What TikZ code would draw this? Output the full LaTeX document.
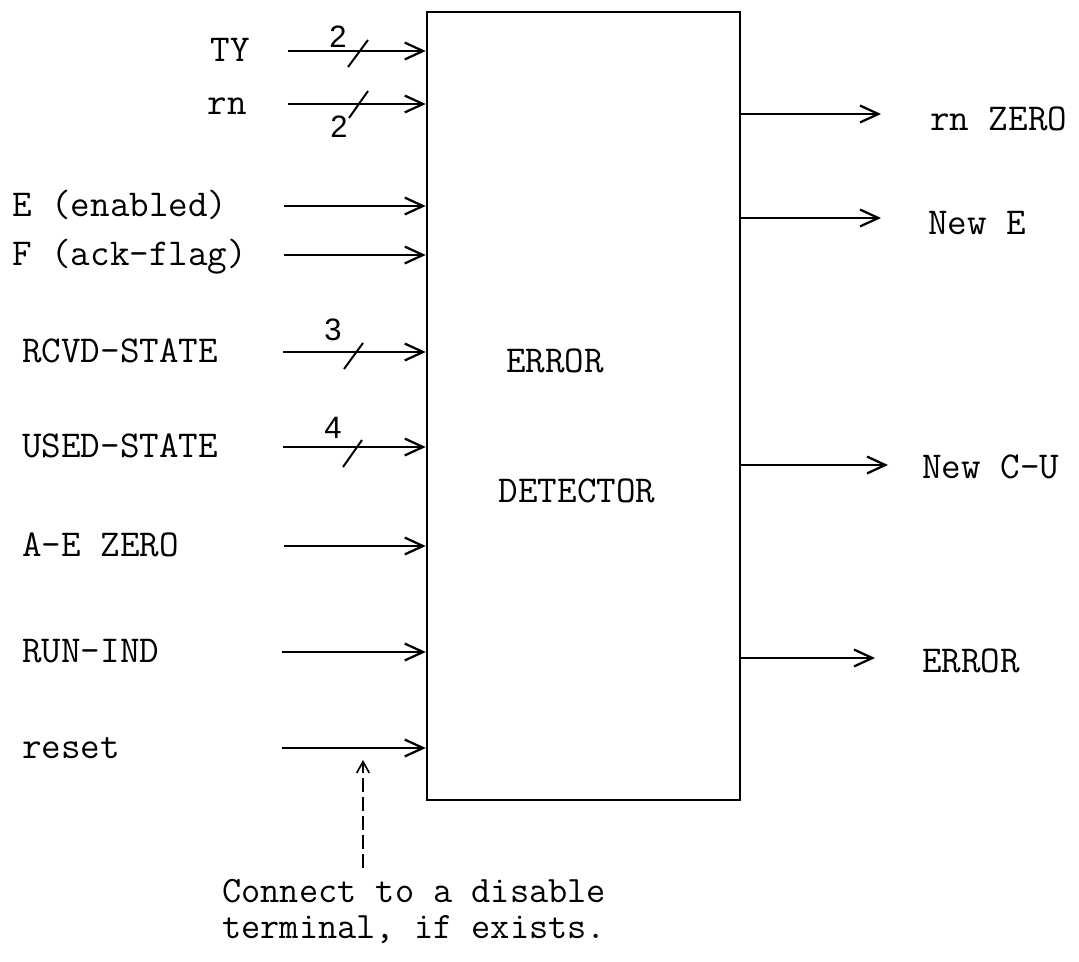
\documentclass[tikz,border=0pt]{standalone}
\usepackage{fontspec}
\setmainfont{Latin Modern Mono}
\setsansfont{Liberation Sans}
\usetikzlibrary{arrows.meta,positioning}

\begin{document}
\begin{tikzpicture}[
  x=0.025cm, y=-0.025cm,
  sig/.style={font=\fontsize{27}{30}\selectfont, inner sep=0pt},
  num/.style={font=\sffamily\fontsize{22}{24}\selectfont, inner sep=0pt},
  wire/.style={line width=1.8pt, -{Straight Barb[length=13pt,width=12pt,line width=1.6pt]}},
  bus/.style={line width=1.4pt},
  note/.style={font=\fontsize{26.5}{25.6}\selectfont, inner sep=0pt, align=left},
  hint/.style={line width=1.2pt, dash pattern=on 10pt off 3.5pt, -{Straight Barb[length=8pt,width=9pt,line width=1.2pt]}}
]
\useasboundingbox (0,0) rectangle (1079,961);
% the detector block
\node[draw, line width=1.8pt, minimum width=7.825cm, minimum height=19.7cm, inner sep=0pt] (det) at (583.5,406) {};
\node[sig, anchor=base] (d1) at (555,372) {ERROR};
\node[sig, anchor=base] (d2) at (577,502) {DETECTOR};

% inputs
\node[sig, anchor=base east] (lty) at (250,61) {TY};
\node[sig, anchor=base east] (lrn) at (247,114) {rn};
\node[sig, anchor=base west] (le) at (12,216) {E (enabled)};
\node[sig, anchor=base west] (lf) at (12,265) {F (ack-flag)};
\node[sig, anchor=base west] (lrc) at (22,362) {RCVD-STATE};
\node[sig, anchor=base west] (lus) at (22,457) {USED-STATE};
\node[sig, anchor=base west] (lae) at (22,556) {A-E ZERO};
\node[sig, anchor=base west] (lri) at (22,662) {RUN-IND};
\node[sig, anchor=base west] (lrs) at (22,758) {reset};

\coordinate (ty) at (288,51);
\coordinate (rn) at (288,104);
\coordinate (en) at (284,206);
\coordinate (fl) at (284,255);
\coordinate (rc) at (283,352);
\coordinate (us) at (283,447);
\coordinate (ae) at (284,546);
\coordinate (ri) at (282,652);
\coordinate (rs) at (282,748);
\foreach \n in {ty,rn,en,fl,rc,us,ae,ri,rs}
  \draw[wire] (\n) -- (\n -| det.west);

% bus widths
\draw[bus] (348,67) -- (368,40);
\draw[bus] (349,118) -- (368,91);
\draw[bus] (344,369) -- (363,343);
\draw[bus] (343,467) -- (362,440);
\node[num] (wty) at (338,37) {2};
\node[num] (wrn) at (339,127) {2};
\node[num] (wrc) at (333,330) {3};
\node[num] (wus) at (333,428) {4};

% outputs
\coordinate (oz) at (881,114);
\coordinate (oe) at (881,218);
\coordinate (oc) at (888,465);
\coordinate (oer) at (875,658);
\foreach \n in {oz,oe,oc,oer}
  \draw[wire] (det.east |- \n) -- (\n);
\node[sig, anchor=base west] (roz) at (930,130) {rn ZERO};
\node[sig, anchor=base west] (roe) at (928,234) {New E};
\node[sig, anchor=base west] (roc) at (922,478) {New C-U};
\node[sig, anchor=base west] (roer) at (922,672) {ERROR};

% note on reset
\node[note, anchor=north west] (tip) at (222,879) {Connect to a disable\\terminal, if exists.};
\coordinate (hs) at (363,868);
\coordinate (he) at (363,760);
\draw[hint] (hs) -- (he);
\end{tikzpicture}
\end{document}
